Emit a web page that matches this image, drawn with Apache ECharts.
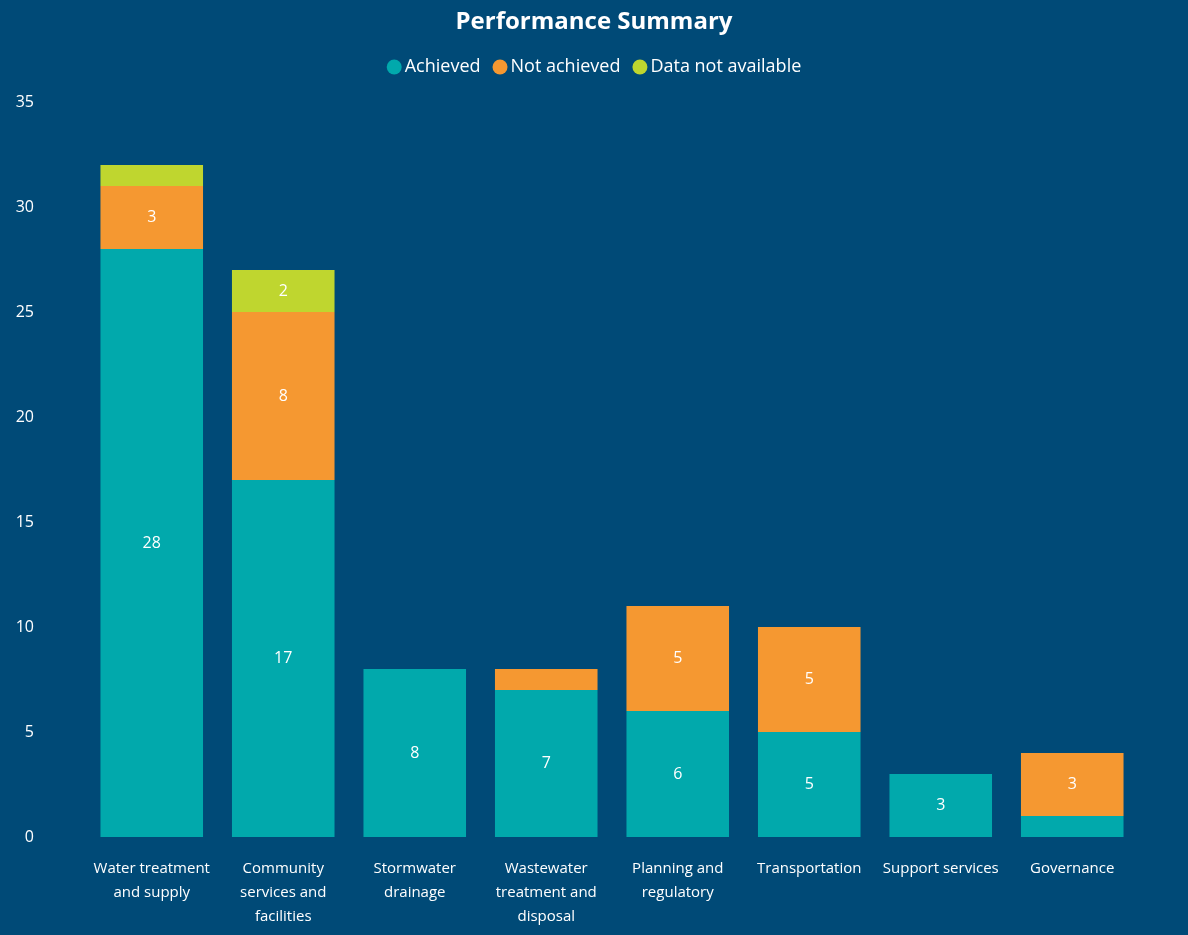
<!DOCTYPE html>
<html>
<head>
<meta charset="utf-8">
<title>Performance Summary</title>
<script src="https://cdn.jsdelivr.net/npm/echarts@6/dist/echarts.min.js"></script>
<style>
  html, body { margin: 0; padding: 0; background: #004a77; }
  #chart { width: 1188px; height: 935px; }
</style>
</head>
<body>
<div id="chart"></div>
<script>
const categories = [
  'Water treatment\nand supply',
  'Community\nservices and\nfacilities',
  'Stormwater\ndrainage',
  'Wastewater\ntreatment and\ndisposal',
  'Planning and\nregulatory',
  'Transportation',
  'Support services',
  'Governance'
]
const achieved = [28, 17, 8, 7, 6, 5, 3, 1]
const notAchieved = [3, 8, null, 1, 5, 5, null, 3]
const notAvailable = [1, 2, null, null, null, null, null, null]

const fontFamily = '"Open Sans", "Noto Sans", sans-serif'

// small segments (value 1) are too short for a label in the original
const label = {
  show: true,
  color: '#ffffff',
  fontSize: 16,
  fontFamily: fontFamily,
  formatter: p => (p.value > 1 ? String(p.value) : '')
}

const makeSeries = (name, data, color) => ({
  name: name,
  type: 'bar',
  stack: 'total',
  barWidth: '78%',
  data: data,
  itemStyle: { color: color },
  label: label
})

const chart = echarts.init(document.getElementById('chart'))
chart.setOption({
  backgroundColor: '#004a77',
  animation: false,
  title: {
    text: 'Performance Summary',
    left: 'center',
    top: 5,
    textStyle: { color: '#ffffff', fontSize: 24, fontWeight: 'bold', fontFamily: fontFamily }
  },
  legend: {
    top: 53,
    left: 'center',
    icon: 'circle',
    itemWidth: 15,
    itemHeight: 15,
    itemGap: 12,
    textStyle: { color: '#ffffff', fontSize: 18, fontFamily: fontFamily, padding: [0, 0, 0, -2] },
    data: ['Achieved', 'Not achieved', 'Data not available']
  },
  grid: { left: 86, right: 50, top: 102, bottom: 98 },
  xAxis: {
    type: 'category',
    data: categories,
    axisLine: { show: false },
    axisTick: { show: false },
    axisLabel: {
      color: '#ffffff',
      fontSize: 15,
      lineHeight: 24,
      margin: 20,
      interval: 0,
      fontFamily: fontFamily
    }
  },
  yAxis: {
    type: 'value',
    min: 0,
    max: 35,
    interval: 5,
    splitLine: { show: false },
    axisLine: { show: false },
    axisTick: { show: false },
    axisLabel: { color: '#ffffff', fontSize: 16, margin: 52, fontFamily: fontFamily }
  },
  series: [
    makeSeries('Achieved', achieved, '#01a9ac'),
    makeSeries('Not achieved', notAchieved, '#f59831'),
    makeSeries('Data not available', notAvailable, '#bfd62f')
  ]
})
</script>
</body>
</html>
